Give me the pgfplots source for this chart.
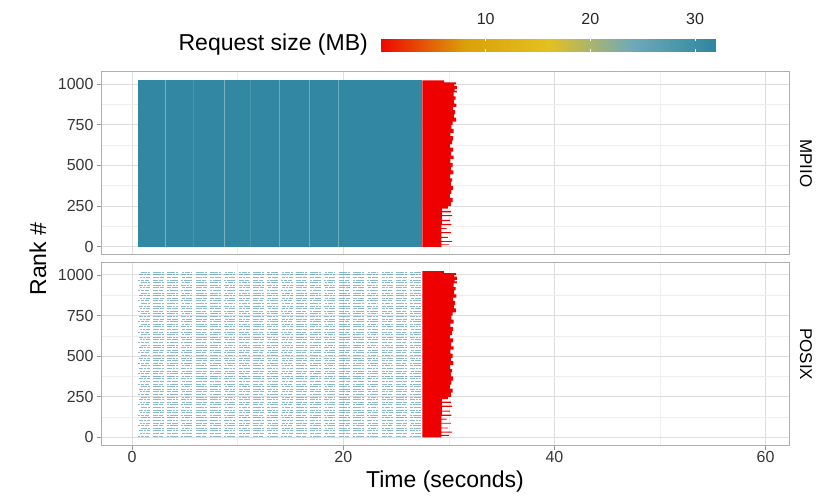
\documentclass[border=0pt]{standalone}
\usepackage{pgfplots}
\pgfplotsset{compat=1.18}
\usepackage{pgfplotstable}
\usepackage{fontspec}
\setmainfont{Liberation Sans}
\definecolor{mblue}{RGB}{50,136,162}
\definecolor{pblue}{RGB}{60,140,168}
\definecolor{mred}{RGB}{238,0,0}
\definecolor{gridmaj}{RGB}{222,222,222}
\definecolor{gridmin}{RGB}{238,238,238}
\definecolor{frame}{RGB}{175,175,175}
\definecolor{tickcol}{RGB}{150,150,150}
\definecolor{ticklab}{RGB}{55,55,55}

\pgfplotstableread{
x y
27.5 -0.5
27.5 1023.5
29.55 1023.5
29.55 1012
30.70 1012
30.70 1000
30.50 1000
30.50 990
30.75 990
30.75 970
30.55 970
30.55 960
30.75 960
30.75 950
30.45 950
30.45 925
30.65 925
30.65 905
30.50 905
30.50 880
30.72 880
30.72 860
30.40 860
30.40 840
30.60 840
30.60 815
30.48 815
30.48 795
30.70 795
30.70 770
30.35 770
30.35 750
30.25 750
30.25 725
30.45 725
30.45 700
30.15 700
30.15 680
30.40 680
30.40 655
30.30 655
30.30 630
30.10 630
30.10 610
30.40 610
30.40 585
30.22 585
30.22 560
30.45 560
30.45 540
30.15 540
30.15 515
30.35 515
30.35 490
30.20 490
30.20 470
30.42 470
30.42 445
30.12 445
30.12 420
30.30 420
30.30 400
30.18 400
30.18 375
30.40 375
30.40 350
30.25 350
30.25 325
30.10 325
30.10 300
30.35 300
30.35 275
30.20 275
30.20 250
29.90 250
29.90 235
29.35 235
29.35 220
30.20 220
30.20 212
29.35 212
29.35 195
30.30 195
30.30 188
29.35 188
29.35 165
30.10 165
30.10 158
29.35 158
29.35 140
30.25 140
30.25 133
29.30 133
29.30 115
29.80 115
29.80 110
29.30 110
29.30 90
30.20 90
30.20 84
29.30 84
29.30 60
29.90 60
29.90 55
29.30 55
29.30 35
30.30 35
30.30 29
29.30 29
29.30 15
30.00 15
30.00 10
29.30 10
29.30 -0.5
}\redpoly

\pgfplotsset{panel/.style={
  scale only axis, width=688.3pt, height=183pt,
  xmin=-2.95, xmax=62.25, ymin=-51.15, ymax=1075.5,
  xtick={0,20,40,60}, minor xtick={10,30,50},
  ytick={0,250,500,750,1000}, minor ytick={125,375,625,875},
  yticklabels={0,250,500,750,1000},
  grid=both,
  major grid style={gridmaj, line width=1pt},
  minor grid style={gridmin, line width=0.6pt},
  axis line style={frame, line width=1pt},
  tick align=outside, ytick pos=left, xtick pos=bottom,
  major tick length=4pt, minor tick length=0pt,
  tick style={tickcol, line width=0.9pt},
  ticklabel style={font=\fontsize{16}{19}\selectfont, text=ticklab},
  unbounded coords=jump,
}}
\tikzset{posixline/.style={pblue, opacity=0.6, line width=1pt}}

\begin{document}
\begin{tikzpicture}
\path[use as bounding box] (0,0) rectangle (821pt,495pt);

% ---------- MPIIO ----------
\begin{axis}[panel, at={(101pt,240pt)}, anchor=south west,
  xticklabels={}, xtick style={draw=none}]
\addplot[fill=mblue, draw=none] coordinates {(0.53,-0.5) (27.5,-0.5) (27.5,1023.5) (0.53,1023.5)} -- cycle;
\addplot[white, opacity=0.35, line width=0.9pt] coordinates {(3.15,-0.5) (3.15,1023.5)};
\addplot[white, opacity=0.12, line width=0.9pt] coordinates {(5.83,-0.5) (5.83,1023.5)};
\addplot[white, opacity=0.35, line width=0.9pt] coordinates {(8.76,-0.5) (8.76,1023.5)};
\addplot[white, opacity=0.12, line width=0.9pt] coordinates {(11.19,-0.5) (11.19,1023.5)};
\addplot[white, opacity=0.3, line width=0.9pt] coordinates {(13.94,-0.5) (13.94,1023.5)};
\addplot[white, opacity=0.3, line width=0.9pt] coordinates {(16.78,-0.5) (16.78,1023.5)};
\addplot[white, opacity=0.3, line width=0.9pt] coordinates {(19.55,-0.5) (19.55,1023.5)};
\addplot[fill=mred, draw=none] table[x=x,y=y] {\redpoly} -- cycle;
\end{axis}

% ---------- POSIX ----------
\begin{axis}[panel, at={(101pt,49.3pt)}, anchor=south west,
  xticklabels={0,20,40,60},
  xticklabel style={inner sep=1.5pt}]
\addplot[posixline, dash pattern=on 2pt off 0.6pt on 3pt off 0.5pt on 4.5pt off 3.7pt, dash phase=0pt] coordinates {
(0.6,8)(27.5,8)(nan,nan)(0.6,72)(27.5,72)(nan,nan)(0.6,136)(27.5,136)(nan,nan)(0.6,200)(27.5,200)(nan,nan)
(0.6,264)(27.5,264)(nan,nan)(0.6,328)(27.5,328)(nan,nan)(0.6,392)(27.5,392)(nan,nan)(0.6,456)(27.5,456)(nan,nan)
(0.6,520)(27.5,520)(nan,nan)(0.6,584)(27.5,584)(nan,nan)(0.6,648)(27.5,648)(nan,nan)(0.6,712)(27.5,712)(nan,nan)
(0.6,776)(27.5,776)(nan,nan)(0.6,840)(27.5,840)(nan,nan)(0.6,904)(27.5,904)(nan,nan)(0.6,968)(27.5,968)};
\addplot[posixline, dash pattern=on 3.5pt off 0.7pt on 2pt off 0.5pt on 4pt off 3.6pt, dash phase=1.2pt] coordinates {
(0.75,24)(27.5,24)(nan,nan)(0.75,88)(27.5,88)(nan,nan)(0.75,152)(27.5,152)(nan,nan)(0.75,216)(27.5,216)(nan,nan)
(0.75,280)(27.5,280)(nan,nan)(0.75,344)(27.5,344)(nan,nan)(0.75,408)(27.5,408)(nan,nan)(0.75,472)(27.5,472)(nan,nan)
(0.75,536)(27.5,536)(nan,nan)(0.75,600)(27.5,600)(nan,nan)(0.75,664)(27.5,664)(nan,nan)(0.75,728)(27.5,728)(nan,nan)
(0.75,792)(27.5,792)(nan,nan)(0.75,856)(27.5,856)(nan,nan)(0.75,920)(27.5,920)(nan,nan)(0.75,984)(27.5,984)};
\addplot[posixline, dash pattern=on 4.8pt off 0.6pt on 2.5pt off 0.8pt on 2.3pt off 3.3pt, dash phase=0.5pt] coordinates {
(0.65,40)(27.5,40)(nan,nan)(0.65,104)(27.5,104)(nan,nan)(0.65,168)(27.5,168)(nan,nan)(0.65,232)(27.5,232)(nan,nan)
(0.65,296)(27.5,296)(nan,nan)(0.65,360)(27.5,360)(nan,nan)(0.65,424)(27.5,424)(nan,nan)(0.65,488)(27.5,488)(nan,nan)
(0.65,552)(27.5,552)(nan,nan)(0.65,616)(27.5,616)(nan,nan)(0.65,680)(27.5,680)(nan,nan)(0.65,744)(27.5,744)(nan,nan)
(0.65,808)(27.5,808)(nan,nan)(0.65,872)(27.5,872)(nan,nan)(0.65,936)(27.5,936)(nan,nan)(0.65,1000)(27.5,1000)};
\addplot[posixline, dash pattern=on 2.6pt off 0.5pt on 5pt off 0.9pt on 1.8pt off 3.5pt, dash phase=1.8pt] coordinates {
(0.8,56)(27.5,56)(nan,nan)(0.8,120)(27.5,120)(nan,nan)(0.8,184)(27.5,184)(nan,nan)(0.8,248)(27.5,248)(nan,nan)
(0.8,312)(27.5,312)(nan,nan)(0.8,376)(27.5,376)(nan,nan)(0.8,440)(27.5,440)(nan,nan)(0.8,504)(27.5,504)(nan,nan)
(0.8,568)(27.5,568)(nan,nan)(0.8,632)(27.5,632)(nan,nan)(0.8,696)(27.5,696)(nan,nan)(0.8,760)(27.5,760)(nan,nan)
(0.8,824)(27.5,824)(nan,nan)(0.8,888)(27.5,888)(nan,nan)(0.8,952)(27.5,952)(nan,nan)(0.8,1016)(27.5,1016)};
\addplot[fill=mred, draw=none] table[x=x,y=y] {\redpoly} -- cycle;
\end{axis}

% ---------- colour bar ----------
\begin{axis}[at={(381pt,443pt)}, anchor=south west, scale only axis,
  width=335pt, height=13pt, view={0}{90},
  xmin=0, xmax=32, ymin=0, ymax=1,
  colormap={zis}{rgb255=(238,8,0) rgb255=(218,160,10) rgb255=(228,192,32) rgb255=(110,170,185) rgb255=(46,134,160)},
  point meta min=0, point meta max=32,
  axis line style={draw=none}, ytick=\empty, ztick=\empty,
  xtick={10,20,30}, xticklabels={10,20,30},
  xticklabel pos=upper, xtick pos=both,
  tick align=inside, major tick length=2.5pt,
  xtick style={white, line width=0.8pt},
  xticklabel style={font=\fontsize{16}{19}\selectfont, text=black!85, inner sep=0pt, yshift=14pt}]
\addplot3[surf, shader=interp, mesh/cols=17] coordinates {
(0,0,0) (2,0,2) (4,0,4) (6,0,6) (8,0,8) (10,0,10) (12,0,12) (14,0,14) (16,0,16) (18,0,18) (20,0,20) (22,0,22) (24,0,24) (26,0,26) (28,0,28) (30,0,30) (32,0,32)
(0,1,0) (2,1,2) (4,1,4) (6,1,6) (8,1,8) (10,1,10) (12,1,12) (14,1,14) (16,1,16) (18,1,18) (20,1,20) (22,1,22) (24,1,24) (26,1,26) (28,1,28) (30,1,30) (32,1,32)};
\end{axis}

\node[anchor=east, font=\fontsize{23}{27}\selectfont, inner sep=0pt] at (368pt,450pt) {Request size (MB)};
\node[rotate=90, font=\fontsize{23}{27}\selectfont] at (38pt,236pt) {Rank \#};
\node[font=\fontsize{23}{27}\selectfont] at (445pt,13pt) {Time (seconds)};
\node[rotate=-90, font=\fontsize{17}{20}\selectfont] at (806pt,331.5pt) {MPIIO};
\node[rotate=-90, font=\fontsize{17}{20}\selectfont] at (806pt,140.8pt) {POSIX};
\end{tikzpicture}
\end{document}
